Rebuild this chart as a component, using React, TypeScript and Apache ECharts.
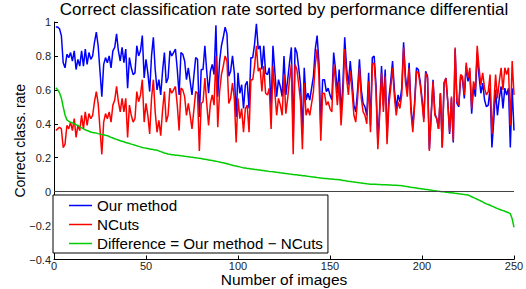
import React, { useEffect, useRef } from "react";
import * as echarts from "echarts";

const FONT = "'Liberation Sans', Arial, Helvetica, sans-serif";

const titleText = "Correct classification rate sorted by performance differential";
const xAxisName = "Number of images";
const yAxisName = "Correct class. rate";
const seriesNames = ["Our method", "NCuts", "Difference = Our method \u2212 NCuts"];
const xTicks = { min: 0, max: 250, interval: 50 };
const yTicks = { min: -0.4, max: 1, interval: 0.2 };

// Correct classification rate of "Our method", images sorted by differential
const ourMethod = [
  0.97, 0.97, 0.96, 0.92, 0.76, 0.73, 0.81, 0.79, 0.82, 0.77,
  0.83, 0.72, 0.78, 0.74, 0.83, 0.74, 0.84, 0.75, 0.82, 0.78,
  0.80, 0.88, 0.94, 0.86, 0.71, 0.56, 0.75, 0.79, 0.76, 0.80,
  0.73, 0.83, 0.85, 0.93, 0.83, 0.77, 0.85, 0.76, 0.84, 0.61,
  0.79, 0.73, 0.69, 0.70, 0.86, 0.80, 0.83, 0.92, 0.67, 0.78,
  0.70, 0.59, 0.80, 0.91, 0.72, 0.60, 0.66, 0.57, 0.71, 0.82,
  0.64, 0.67, 0.83, 0.80, 0.82, 0.84, 0.72, 0.57, 0.82, 0.81,
  0.77, 0.66, 0.73, 0.65, 0.57, 0.68, 0.79, 0.78, 0.44, 0.72,
  0.72, 0.86, 0.71, 0.58, 0.71, 0.75, 0.69, 0.98, 0.56, 0.77,
  0.86, 0.91, 0.97, 0.93, 0.68, 0.71, 0.80, 0.70, 0.44, 0.70,
  0.58, 0.63, 0.49, 0.63, 0.65, 0.49, 0.79, 0.79, 0.87, 0.99,
  0.84, 0.86, 0.72, 0.86, 0.70, 0.69, 0.73, 0.49, 0.86, 0.71,
  0.56, 0.66, 0.62, 0.56, 0.80, 0.57, 0.66, 0.76, 0.85, 0.32,
  0.85, 0.82, 0.73, 0.63, 0.34, 0.73, 0.54, 0.58, 0.54, 0.61,
  0.68, 0.84, 0.92, 0.76, 0.38, 0.66, 0.66, 0.59, 0.61, 0.57,
  0.54, 0.82, 0.72, 0.58, 0.72, 0.46, 0.63, 0.91, 0.73, 0.63,
  0.77, 0.65, 0.51, 0.47, 0.60, 0.78, 0.60, 0.52, 0.50, 0.45,
  0.70, 0.39, 0.79, 0.80, 0.63, 0.29, 0.49, 0.74, 0.51, 0.72,
  0.32, 0.55, 0.65, 0.77, 0.60, 0.49, 0.57, 0.53, 0.61, 0.88,
  0.68, 0.59, 0.76, 0.50, 0.38, 0.53, 0.73, 0.72, 0.65, 0.55,
  0.43, 0.71, 0.68, 0.25, 0.46, 0.66, 0.46, 0.43, 0.37, 0.58,
  0.26, 0.64, 0.67, 0.53, 0.34, 0.55, 0.29, 0.84, 0.52, 0.50,
  0.68, 0.66, 0.55, 0.74, 0.65, 0.71, 0.46, 0.62, 0.56, 0.82,
  0.68, 0.58, 0.64, 0.54, 0.50, 0.51, 0.61, 0.26, 0.42, 0.60,
  0.45, 0.55, 0.62, 0.49, 0.61, 0.57, 0.61, 0.26, 0.61, 0.36,
];

// Correct classification rate of NCuts, same image order
const nCuts = [
  0.36, 0.37, 0.38, 0.37, 0.26, 0.28, 0.39, 0.37, 0.41, 0.36,
  0.43, 0.32, 0.39, 0.36, 0.45, 0.37, 0.47, 0.39, 0.46, 0.43,
  0.45, 0.53, 0.59, 0.52, 0.37, 0.22, 0.41, 0.46, 0.43, 0.47,
  0.41, 0.51, 0.54, 0.62, 0.53, 0.47, 0.55, 0.47, 0.55, 0.32,
  0.51, 0.45, 0.41, 0.43, 0.59, 0.53, 0.57, 0.66, 0.41, 0.52,
  0.45, 0.34, 0.55, 0.66, 0.47, 0.35, 0.42, 0.33, 0.48, 0.59,
  0.41, 0.45, 0.61, 0.58, 0.60, 0.62, 0.51, 0.36, 0.61, 0.60,
  0.56, 0.45, 0.52, 0.45, 0.37, 0.48, 0.59, 0.58, 0.24, 0.52,
  0.53, 0.67, 0.52, 0.39, 0.52, 0.57, 0.51, 0.80, 0.38, 0.59,
  0.69, 0.74, 0.80, 0.77, 0.52, 0.55, 0.64, 0.55, 0.29, 0.55,
  0.43, 0.49, 0.35, 0.49, 0.51, 0.35, 0.66, 0.66, 0.74, 0.86,
  0.71, 0.73, 0.59, 0.74, 0.58, 0.57, 0.61, 0.37, 0.74, 0.59,
  0.45, 0.55, 0.51, 0.45, 0.69, 0.46, 0.55, 0.66, 0.75, 0.22,
  0.75, 0.72, 0.63, 0.53, 0.25, 0.64, 0.45, 0.49, 0.45, 0.52,
  0.59, 0.75, 0.84, 0.68, 0.30, 0.58, 0.58, 0.51, 0.53, 0.49,
  0.47, 0.75, 0.65, 0.51, 0.65, 0.39, 0.56, 0.84, 0.67, 0.57,
  0.71, 0.59, 0.45, 0.41, 0.55, 0.73, 0.55, 0.47, 0.45, 0.40,
  0.65, 0.35, 0.75, 0.76, 0.59, 0.25, 0.45, 0.70, 0.47, 0.68,
  0.28, 0.51, 0.61, 0.73, 0.56, 0.45, 0.53, 0.49, 0.57, 0.85,
  0.65, 0.56, 0.73, 0.47, 0.35, 0.51, 0.71, 0.70, 0.63, 0.53,
  0.41, 0.70, 0.67, 0.24, 0.45, 0.65, 0.45, 0.43, 0.37, 0.58,
  0.26, 0.64, 0.67, 0.53, 0.35, 0.56, 0.30, 0.85, 0.53, 0.51,
  0.69, 0.68, 0.57, 0.76, 0.67, 0.73, 0.49, 0.65, 0.60, 0.86,
  0.73, 0.63, 0.70, 0.61, 0.57, 0.59, 0.69, 0.34, 0.51, 0.69,
  0.55, 0.65, 0.73, 0.60, 0.73, 0.69, 0.73, 0.39, 0.77, 0.57,
];

// Difference (Our method - NCuts), sorted descending
const difference = [
  0.612, 0.600, 0.582, 0.552, 0.500, 0.452, 0.423, 0.415, 0.410, 0.405,
  0.400, 0.395, 0.390, 0.383, 0.376, 0.370, 0.365, 0.360, 0.356, 0.352,
  0.349, 0.347, 0.345, 0.342, 0.340, 0.337, 0.335, 0.332, 0.330, 0.325,
  0.320, 0.316, 0.312, 0.308, 0.304, 0.300, 0.297, 0.294, 0.290, 0.287,
  0.284, 0.280, 0.277, 0.274, 0.270, 0.267, 0.264, 0.260, 0.258, 0.256,
  0.254, 0.252, 0.250, 0.248, 0.246, 0.245, 0.240, 0.236, 0.232, 0.228,
  0.225, 0.222, 0.220, 0.218, 0.217, 0.215, 0.214, 0.213, 0.211, 0.210,
  0.208, 0.207, 0.206, 0.204, 0.203, 0.201, 0.200, 0.198, 0.197, 0.195,
  0.193, 0.191, 0.189, 0.187, 0.185, 0.183, 0.181, 0.179, 0.177, 0.175,
  0.172, 0.170, 0.167, 0.164, 0.161, 0.158, 0.156, 0.153, 0.151, 0.148,
  0.146, 0.143, 0.140, 0.139, 0.137, 0.136, 0.134, 0.133, 0.131, 0.130,
  0.128, 0.127, 0.125, 0.124, 0.122, 0.121, 0.119, 0.118, 0.117, 0.116,
  0.114, 0.113, 0.111, 0.110, 0.109, 0.107, 0.106, 0.104, 0.103, 0.101,
  0.100, 0.099, 0.097, 0.096, 0.094, 0.093, 0.092, 0.090, 0.089, 0.087,
  0.086, 0.085, 0.083, 0.082, 0.080, 0.079, 0.078, 0.077, 0.076, 0.075,
  0.074, 0.073, 0.072, 0.071, 0.070, 0.068, 0.066, 0.065, 0.063, 0.061,
  0.060, 0.058, 0.057, 0.055, 0.054, 0.052, 0.051, 0.049, 0.048, 0.046,
  0.045, 0.044, 0.044, 0.043, 0.043, 0.042, 0.042, 0.041, 0.041, 0.040,
  0.040, 0.039, 0.039, 0.038, 0.038, 0.037, 0.036, 0.036, 0.035, 0.033,
  0.031, 0.030, 0.028, 0.026, 0.025, 0.023, 0.021, 0.019, 0.018, 0.016,
  0.015, 0.013, 0.012, 0.010, 0.009, 0.007, 0.006, 0.004, 0.003, 0.001,
  0.000, -0.001, -0.003, -0.004, -0.006, -0.007, -0.008, -0.010, -0.011, -0.013,
  -0.014, -0.016, -0.017, -0.019, -0.020, -0.025, -0.030, -0.035, -0.040, -0.045,
  -0.050, -0.055, -0.060, -0.067, -0.072, -0.076, -0.080, -0.085, -0.090, -0.095,
  -0.100, -0.104, -0.108, -0.112, -0.116, -0.120, -0.124, -0.130, -0.160, -0.210,
];

const toPairs = (arr: number[]) => arr.map((v, i) => [i + 1, v]);

const fmtY = (v: number) => {
  const r = Number(v.toFixed(1));
  return r < 0 ? "\u2212" + String(Math.abs(r)) : String(r);
};

export default function App() {
  const ref = useRef<HTMLDivElement>(null);
  useEffect(() => {
    if (!ref.current) return;
    const chart = echarts.init(ref.current, null, { renderer: "svg" });
    const lineSeries = (name: string, data: number[], color: string, extra: any = {}) => ({
      name,
      type: "line",
      data: toPairs(data),
      symbol: "none",
      showSymbol: false,
      lineStyle: { color, width: 1.5 },
      itemStyle: { color },
      ...extra,
    });
    chart.setOption({
      animation: false,
      backgroundColor: "#ffffff",
      title: {
        text: titleText,
        left: 284,
        textAlign: "center",
        top: 1,
        padding: 0,
        textStyle: { fontFamily: FONT, fontSize: 17, fontWeight: "normal", color: "#000" },
      },
      grid: {
        left: 54,
        right: 12,
        top: 22,
        bottom: 29.5,
        containLabel: false,
        outerBoundsMode: "none",
      },
      legend: {
        orient: "vertical",
        left: 53,
        top: 195,
        padding: [3, 5, 2, 16],
        itemGap: 4,
        itemWidth: 23,
        itemHeight: 1.5,
        itemTextGap: 2,
        icon: "rect",
        backgroundColor: "#fff",
        borderColor: "#000",
        borderWidth: 1,
        borderRadius: 0,
        data: seriesNames,
        textStyle: { fontFamily: FONT, fontSize: 15.2, color: "#000" },
      },
      xAxis: {
        type: "value",
        min: xTicks.min,
        max: xTicks.max,
        interval: xTicks.interval,
        name: xAxisName,
        nameLocation: "middle",
        nameGap: 12,
        nameMoveOverlap: false,
        nameTextStyle: { fontFamily: FONT, fontSize: 15.5, color: "#000", verticalAlign: "top" },
        axisLine: { onZero: false, lineStyle: { color: "#000", width: 1 } },
        axisTick: { inside: true, length: 4, lineStyle: { color: "#000" } },
        axisLabel: { fontFamily: FONT, fontSize: 11, color: "#222", margin: 1 },
        splitLine: { show: false },
      },
      yAxis: {
        type: "value",
        min: yTicks.min,
        max: yTicks.max,
        interval: yTicks.interval,
        name: yAxisName,
        nameLocation: "middle",
        nameRotate: 90,
        nameGap: 27,
        nameMoveOverlap: false,
        nameTextStyle: { fontFamily: FONT, fontSize: 14, color: "#000" },
        axisLine: { onZero: false, lineStyle: { color: "#000", width: 1 } },
        axisTick: { inside: true, length: 4, lineStyle: { color: "#000" } },
        axisLabel: { fontFamily: FONT, fontSize: 11, color: "#222", margin: 3, formatter: fmtY },
        splitLine: { show: false },
      },
      series: [
        lineSeries(seriesNames[0], ourMethod, "#0000ff"),
        lineSeries(seriesNames[1], nCuts, "#ff0000"),
        lineSeries(seriesNames[2], difference, "#00cc00", {
          markLine: {
            silent: true,
            symbol: "none",
            label: { show: false },
            lineStyle: { color: "#444", width: 1, type: "solid" },
            data: [{ yAxis: 0 }],
          },
        }),
      ],
    });
    return () => chart.dispose();
  }, []);
  return (
    <div
      ref={ref}
      style={{ position: "fixed", left: 0, top: 0, width: 526, height: 289, background: "#fff" }}
    />
  );
}
